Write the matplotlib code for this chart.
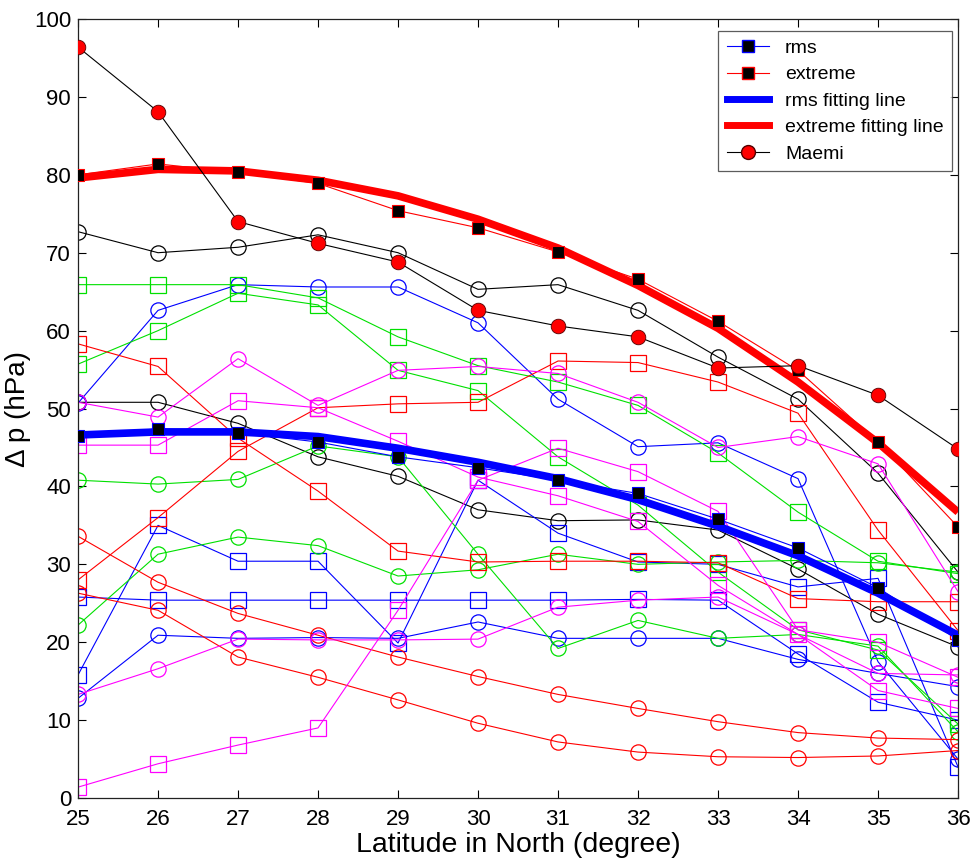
import matplotlib
matplotlib.use("Agg")
import matplotlib.pyplot as plt
from matplotlib.lines import Line2D

plt.rcParams['font.family'] = ['Liberation Sans', 'DejaVu Sans']

# ---------------- data ----------------
latitude = [25, 26, 27, 28, 29, 30, 31, 32, 33, 34, 35, 36]

# individual typhoon profiles (background lines)
black_c1 = [72.7, 70.0, 70.7, 72.3, 70.0, 65.3, 65.9, 62.6, 56.6, 51.2, 41.7, 29.0]
black_c2 = [50.8, 50.8, 48.1, 43.8, 41.3, 37.0, 35.6, 35.7, 34.4, 29.4, 23.6, 19.4]
blue_c1 = [50.7, 62.6, 65.9, 65.6, 65.6, 61.0, 51.2, 45.1, 45.6, 41.0, 17.5, 5.0]
blue_c2 = [12.8, 20.9, 20.5, 20.6, 20.5, 22.6, 20.5, 20.5, 20.5, 17.8, 16.0, 14.3]
blue_s1 = [25.8, 25.4, 25.4, 25.4, 25.4, 25.4, 25.4, 25.5, 25.4, 18.5, 12.3, 10.0]
blue_s2 = [15.8, 35.0, 30.4, 30.4, 19.9, 40.8, 34.0, 30.3, 30.0, 27.1, 28.2, 4.0]
green_s1 = [65.9, 65.9, 65.9, 64.2, 59.2, 55.5, 53.4, 50.4, 44.3, 36.7, 30.4, 28.8]
green_s2 = [55.7, 60.0, 64.8, 63.3, 54.9, 52.3, 43.8, 37.6, 29.0, 21.6, 19.0, 9.5]
green_c1 = [40.8, 40.3, 40.9, 45.2, 43.8, 31.3, 19.2, 22.8, 20.5, 21.0, 19.5, 8.5]
green_c2 = [22.2, 31.3, 33.5, 32.4, 28.5, 29.3, 31.3, 30.0, 30.3, 30.5, 30.2, 29.0]
red_s1 = [28.0, 36.0, 44.5, 50.1, 50.6, 50.8, 56.1, 55.9, 53.4, 49.4, 34.4, 21.5]
red_s2 = [58.3, 55.4, 46.2, 39.4, 31.7, 30.3, 30.4, 30.4, 30.2, 25.6, 25.2, 25.2]
red_c1 = [33.6, 27.7, 23.7, 20.9, 18.1, 15.6, 13.3, 11.5, 9.8, 8.4, 7.7, 7.5]
red_c2 = [26.3, 24.1, 18.1, 15.5, 12.6, 9.6, 7.2, 5.9, 5.3, 5.2, 5.4, 6.1]
magenta_s1 = [1.4, 4.4, 6.8, 9.0, 24.1, 40.8, 44.9, 41.9, 36.8, 21.6, 20.0, 15.5]
magenta_s2 = [45.3, 45.3, 51.0, 50.1, 45.8, 41.2, 38.8, 35.5, 27.3, 21.0, 13.8, 11.5]
magenta_c1 = [50.8, 48.9, 56.4, 50.4, 54.9, 55.4, 54.5, 50.8, 45.0, 46.4, 42.9, 26.5]
magenta_c2 = [13.3, 16.6, 20.4, 20.3, 20.3, 20.4, 24.5, 25.4, 25.8, 21.0, 16.0, 15.8]

# summary series
rms = [46.5, 47.4, 46.9, 45.7, 43.8, 42.4, 40.8, 39.1, 35.8, 32.1, 27.0, 20.3]
extreme = [80.0, 81.4, 80.3, 78.9, 75.4, 73.2, 70.1, 66.6, 61.2, 54.9, 45.7, 34.8]
rms_fit = [46.6, 47.0, 47.0, 46.4, 44.9, 43.1, 41.0, 38.3, 34.9, 31.1, 26.3, 20.9]
extreme_fit = [79.6, 80.7, 80.5, 79.3, 77.3, 74.3, 70.6, 65.8, 60.3, 53.4, 45.6, 36.7]
maemi = [96.4, 88.1, 74.0, 71.2, 68.8, 62.6, 60.6, 59.2, 55.2, 55.5, 51.7, 44.8]

x_ticks = [25, 26, 27, 28, 29, 30, 31, 32, 33, 34, 35, 36]
y_ticks = [0, 10, 20, 30, 40, 50, 60, 70, 80, 90, 100]

legend_labels = ['rms', 'extreme', 'rms fitting line', 'extreme fitting line', 'Maemi']
x_label = 'Latitude in North (degree)'
y_label = 'Δ p (hPa)'

# ---------------- styles ----------------
BLUE, RED, GREEN, MAG, BLACK = '#0000ff', '#ff0000', '#00e000', '#ff00ff', '#000000'
background = [
    (black_c1, BLACK, 'o'), (black_c2, BLACK, 'o'),
    (blue_c1, BLUE, 'o'), (blue_c2, BLUE, 'o'),
    (blue_s1, BLUE, 's'), (blue_s2, BLUE, 's'),
    (green_s1, GREEN, 's'), (green_s2, GREEN, 's'),
    (green_c1, GREEN, 'o'), (green_c2, GREEN, 'o'),
    (red_s1, RED, 's'), (red_s2, RED, 's'),
    (red_c1, RED, 'o'), (red_c2, RED, 'o'),
    (magenta_s1, MAG, 's'), (magenta_s2, MAG, 's'),
    (magenta_c1, MAG, 'o'), (magenta_c2, MAG, 'o'),
]

fig = plt.figure(figsize=(9.73, 8.68), dpi=100)
ax = fig.add_axes([0.0802, 0.0806, 0.9044, 0.8975])

for vals, col, mk in background:
    ax.plot(latitude, vals, color=col, lw=0.8, marker=mk,
            ms=11 if mk == 'o' else 11.5, mfc='none', mec=col, mew=0.9, zorder=2)

ax.plot(latitude, rms_fit, color=BLUE, lw=5.5, solid_capstyle='butt', zorder=3)
ax.plot(latitude, extreme_fit, color=RED, lw=5.5, solid_capstyle='butt', zorder=3)
ax.plot(latitude, rms, color=BLUE, lw=0.8, marker='s', ms=9, mfc='black', mec=BLUE, mew=0.8, zorder=4)
ax.plot(latitude, extreme, color=RED, lw=0.8, marker='s', ms=9, mfc='black', mec=RED, mew=0.8, zorder=4)
ax.plot(latitude, maemi, color=BLACK, lw=0.8, marker='o', ms=10.5, mfc=RED, mec='#550000', mew=0.6, zorder=5)

ax.set_xlim(25, 36)
ax.set_ylim(0, 100)
ax.set_xticks(x_ticks)
ax.set_yticks(y_ticks)
ax.tick_params(direction='in', length=6, width=0.8, top=True, right=True, labelsize=16)
ax.tick_params(axis='x', pad=8)
ax.tick_params(axis='y', pad=5)
for s in ax.spines.values():
    s.set_linewidth(0.9)
    s.set_color('#222222')
ax.set_xlabel(x_label, fontsize=20.5, labelpad=1)
ax.set_ylabel(y_label, fontsize=20, labelpad=2)

handles = [
    Line2D([], [], color=BLUE, lw=0.8, marker='s', ms=9, mfc='black', mec=BLUE),
    Line2D([], [], color=RED, lw=0.8, marker='s', ms=9, mfc='black', mec=RED),
    Line2D([], [], color=BLUE, lw=5),
    Line2D([], [], color=RED, lw=5),
    Line2D([], [], color=BLACK, lw=0.8, marker='o', ms=10, mfc=RED, mec='#550000'),
]
leg = ax.legend(handles, legend_labels, loc='upper right', bbox_to_anchor=(0.9935, 0.985),
                fontsize=14, frameon=True, fancybox=False, edgecolor='#333333',
                handlelength=2.2, handletextpad=0.8, labelspacing=0.45, borderpad=0.45,
                borderaxespad=0.0)
leg.get_frame().set_linewidth(0.9)

fig.savefig('out.png', dpi=100)
